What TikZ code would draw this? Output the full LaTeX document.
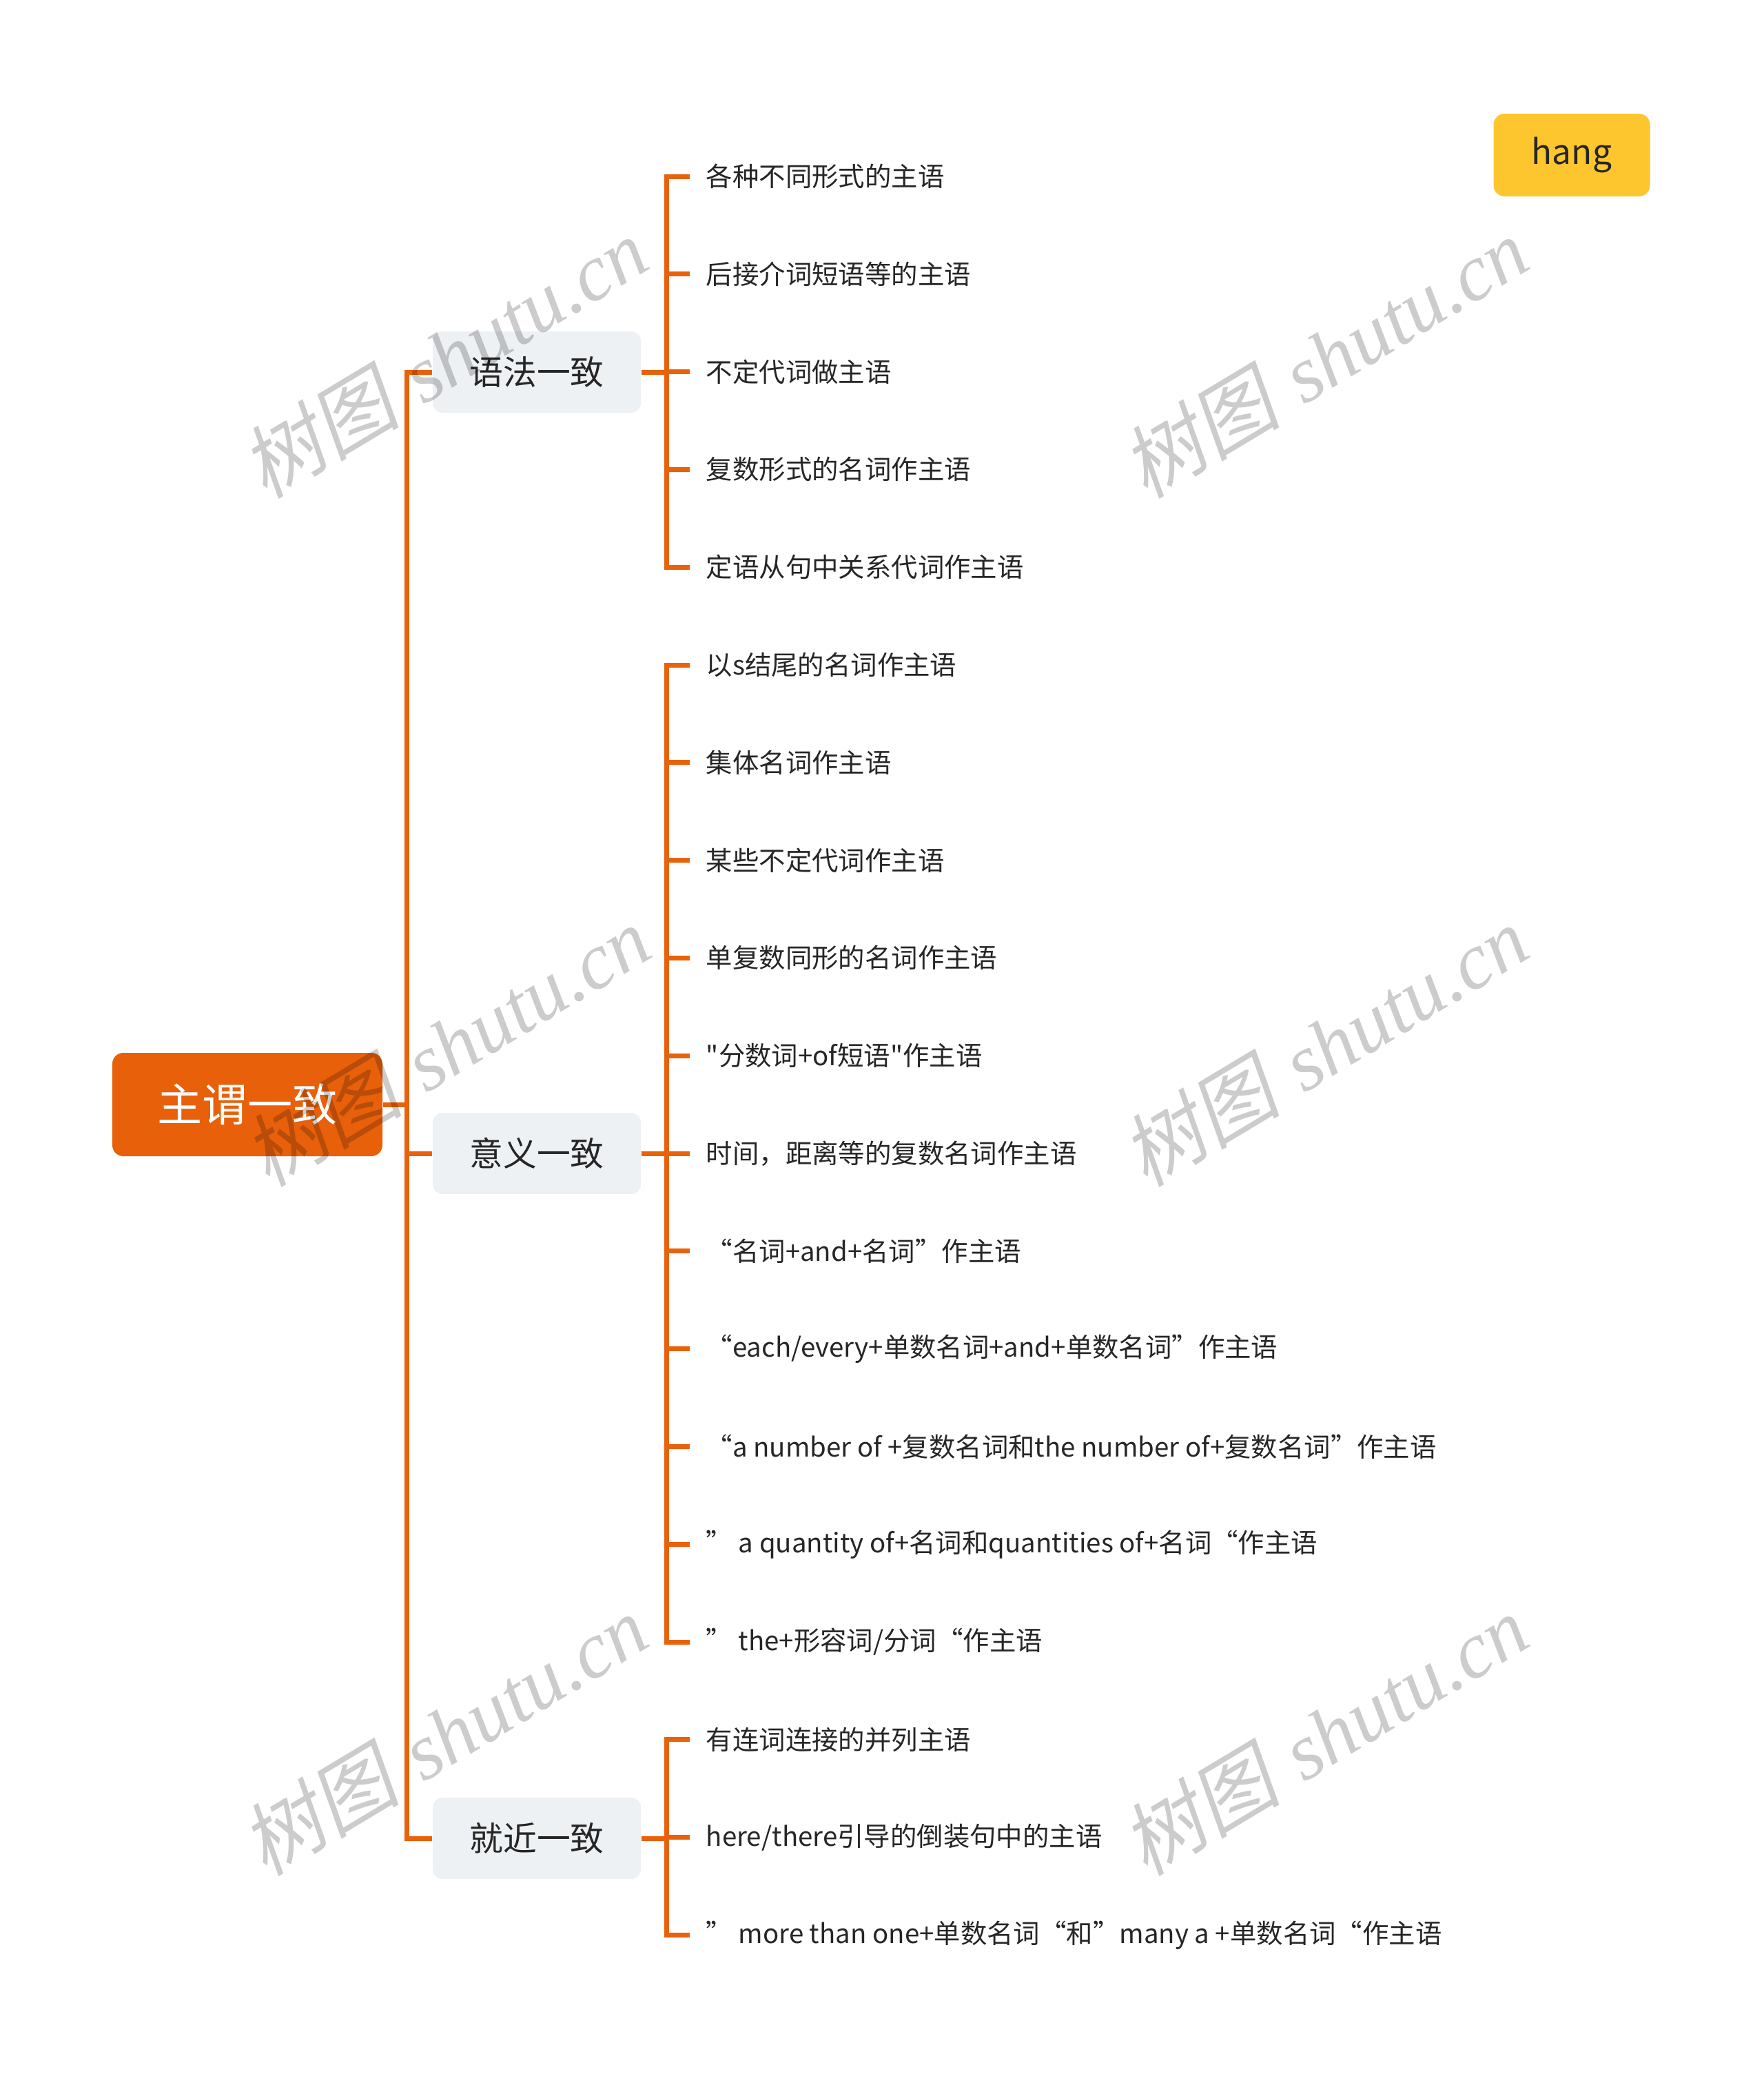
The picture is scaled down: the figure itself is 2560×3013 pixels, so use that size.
\documentclass[tikz,border=0pt]{standalone}
\usepackage{fontspec}
\newfontfamily\cjkfont{Noto Sans CJK SC}
\newfontfamily\wmlatin{Liberation Serif}
\newfontfamily\wmcjk{Noto Sans CJK SC}[FakeSlant=0.2]
\definecolor{orangeline}{HTML}{E8620C}
\definecolor{rootfill}{HTML}{E8600A}
\definecolor{subfill}{HTML}{EEF1F4}
\definecolor{hangfill}{HTML}{FDC62E}
\definecolor{txt}{HTML}{262626}
\tikzset{
  conn/.style={draw=orangeline, line width=1.75pt},
  rootbox/.style={rectangle, rounded corners=4pt, fill=rootfill, text=white,
    minimum width=98pt, minimum height=37.5pt, inner sep=0pt, font=\cjkfont\fontsize{16.3pt}{19pt}\selectfont},
  subbox/.style={rectangle, rounded corners=3.5pt, fill=subfill, text=txt,
    minimum width=75.5pt, minimum height=29.5pt, inner sep=0pt, font=\cjkfont\fontsize{12.2pt}{15pt}\selectfont},
  leaf/.style={anchor=west, inner xsep=5.75pt, inner ysep=1pt, text=txt,
    font=\cjkfont\fontsize{9.6pt}{12pt}\selectfont},
  hangbox/.style={rectangle, rounded corners=4pt, fill=hangfill, text=txt,
    minimum width=56.75pt, minimum height=30pt, inner sep=0pt, font=\cjkfont\fontsize{12.4pt}{15pt}\selectfont},
  wm/.style={text=black, text opacity=0.2, rotate=31, inner sep=0pt,
    font=\fontsize{29pt}{34pt}\selectfont}
}
\begin{document}
\begin{tikzpicture}[x=0.25pt,y=-0.25pt]
\useasboundingbox (0,0) rectangle (2560,3013);
\fill[white] (0,0) rectangle (2560,3013);

% root and main branches
\node[rootbox] (root) at (359,1603) {主谓一致};
\node[subbox] (g1) at (779,540) {语法一致};
\node[subbox] (g2) at (779,1674) {意义一致};
\node[subbox] (g3) at (779,2668) {就近一致};
\node[hangbox] (hang) at (2281,225) {hang};

% leaves
\node[leaf] (a1) at (1001,256) {各种不同形式的主语};
\node[leaf] (a2) at (1001,397.8) {后接介词短语等的主语};
\node[leaf] (a3) at (1001,539.6) {不定代词做主语};
\node[leaf] (a4) at (1001,681.4) {复数形式的名词作主语};
\node[leaf] (a5) at (1001,823.2) {定语从句中关系代词作主语};

\node[leaf] (b1) at (1001,965) {以s结尾的名词作主语};
\node[leaf] (b2) at (1001,1106.8) {集体名词作主语};
\node[leaf] (b3) at (1001,1248.6) {某些不定代词作主语};
\node[leaf] (b4) at (1001,1390.4) {单复数同形的名词作主语};
\node[leaf] (b5) at (1001,1532.2) {"分数词+of短语"作主语};
\node[leaf] (b6) at (1001,1674) {时间，距离等的复数名词作主语};
\node[leaf] (b7) at (1001,1815.8) {“名词+and+名词”作主语};
\node[leaf] (b8) at (1001,1957.6) {“each/every+单数名词+and+单数名词”作主语};
\node[leaf] (b9) at (1001,2099.4) {“a number of +复数名词和the number of+复数名词”作主语};
\node[leaf] (b10) at (1001,2241.2) {” a quantity of+名词和quantities of+名词“作主语};
\node[leaf] (b11) at (1001,2383) {” the+形容词/分词“作主语};

\node[leaf] (c1) at (1001,2524.8) {有连词连接的并列主语};
\node[leaf] (c2) at (1001,2666.6) {here/there引导的倒装句中的主语};
\node[leaf] (c3) at (1001,2808.4) {” more than one+单数名词“和”many a +单数名词“作主语};

% connectors root -> groups
\foreach \g in {g1,g2,g3}
  \draw[conn] (root.east) -- ++(35,0) |- (\g.west);

% connectors groups -> leaves
\foreach \l in {a1,a2,a3,a4,a5}
  \draw[conn] (g1.east) -- ++(37,0) |- (\l.west);
\foreach \l in {b1,b2,b3,b4,b5,b6,b7,b8,b9,b10,b11}
  \draw[conn] (g2.east) -- ++(37,0) |- (\l.west);
\foreach \l in {c1,c2,c3}
  \draw[conn] (g3.east) -- ++(37,0) |- (\l.west);

% watermarks
\foreach \wx/\wy/\wn in {644/519/w1,1922/519/w2,648/1518/w3,1922/1518/w4,644/2518/w5,1922/2518/w6}
  \node[wm] (\wn) at (\wx,\wy) {{\wmcjk 树图} {\wmlatin\itshape shutu.cn}};
\end{tikzpicture}
\end{document}
